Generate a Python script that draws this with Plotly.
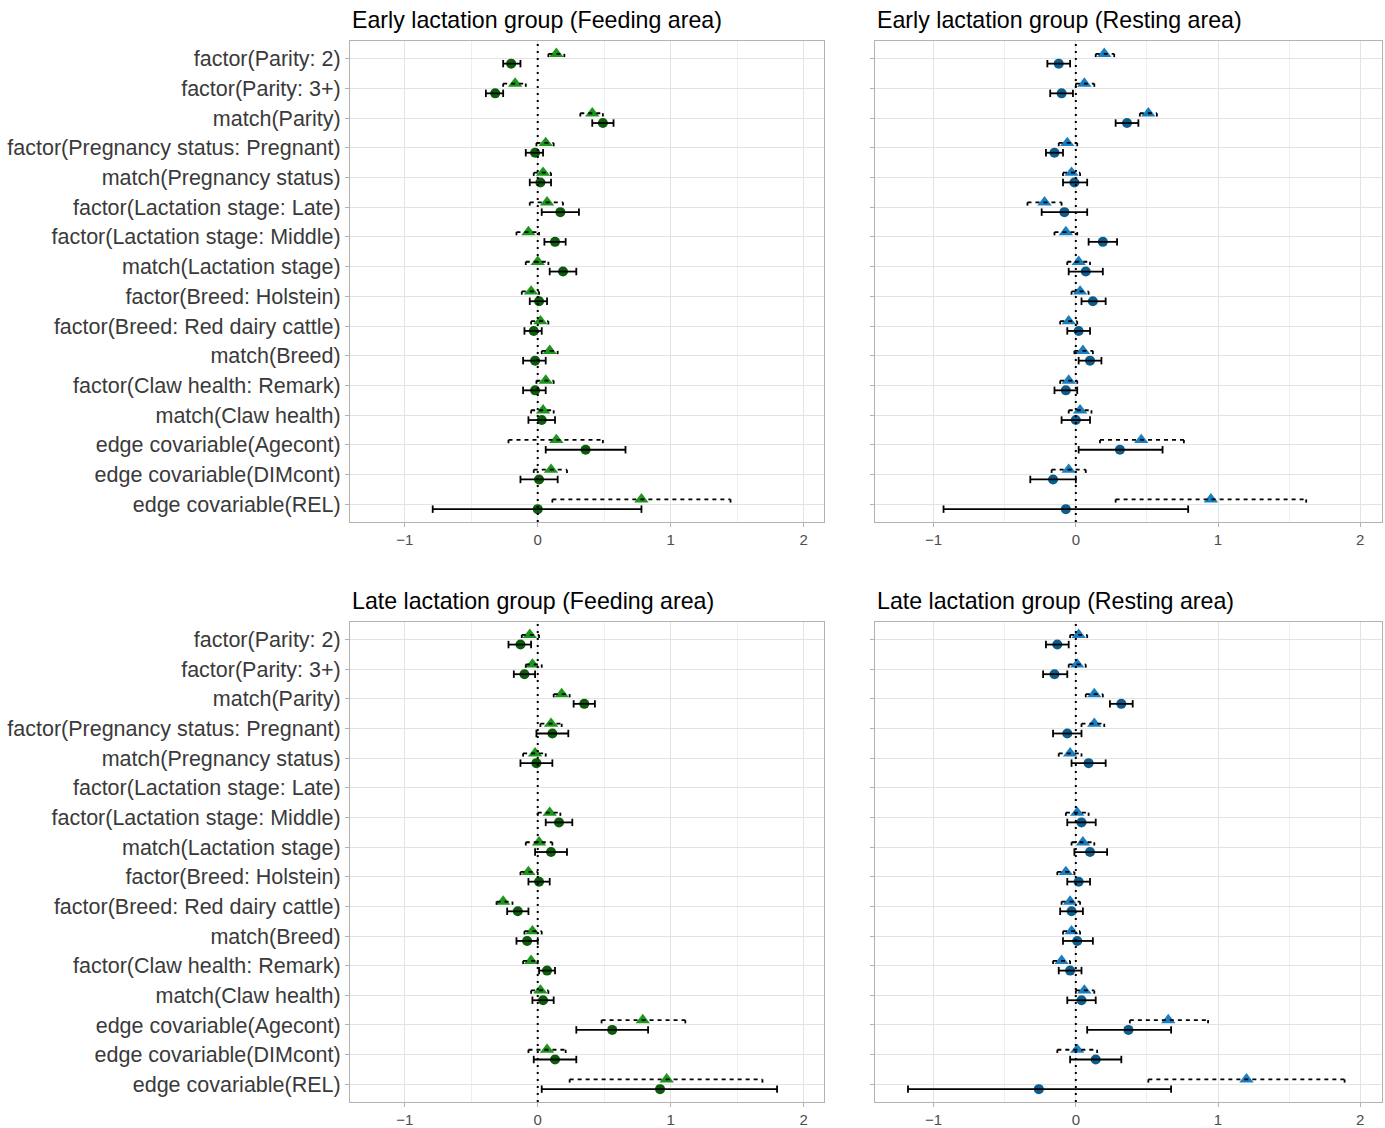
import plotly.graph_objects as go

# ---------------- data ----------------
labels = [
    "factor(Parity: 2)", "factor(Parity: 3+)", "match(Parity)",
    "factor(Pregnancy status: Pregnant)", "match(Pregnancy status)",
    "factor(Lactation stage: Late)", "factor(Lactation stage: Middle)",
    "match(Lactation stage)", "factor(Breed: Holstein)",
    "factor(Breed: Red dairy cattle)", "match(Breed)",
    "factor(Claw health: Remark)", "match(Claw health)",
    "edge covariable(Agecont)", "edge covariable(DIMcont)", "edge covariable(REL)",
]
x_ticks = [-1, 0, 1, 2]
x_minor = [-0.5, 0.5, 1.5]

titles = ["Early lactation group (Feeding area)", "Early lactation group (Resting area)",
          "Late lactation group (Feeding area)", "Late lactation group (Resting area)"]

# Early lactation, feeding area
ef_tri_est = [0.14, -0.17, 0.41, 0.06, 0.04, 0.07, -0.07, 0.00, -0.05, 0.02, 0.09, 0.06, 0.04, 0.14, 0.10, 0.78]
ef_tri_lo = [0.08, -0.26, 0.32, -0.01, -0.03, -0.06, -0.16, -0.09, -0.12, -0.05, 0.03, -0.01, -0.05, -0.22, -0.03, 0.11]
ef_tri_hi = [0.20, -0.09, 0.49, 0.12, 0.10, 0.19, 0.01, 0.08, 0.01, 0.08, 0.15, 0.12, 0.12, 0.49, 0.22, 1.45]
ef_circ_est = [-0.20, -0.32, 0.49, -0.02, 0.02, 0.17, 0.13, 0.19, 0.01, -0.03, -0.02, -0.02, 0.03, 0.36, 0.01, 0.00]
ef_circ_lo = [-0.26, -0.39, 0.41, -0.09, -0.06, 0.03, 0.05, 0.09, -0.06, -0.10, -0.11, -0.11, -0.07, 0.06, -0.13, -0.79]
ef_circ_hi = [-0.13, -0.26, 0.57, 0.04, 0.10, 0.31, 0.21, 0.29, 0.07, 0.03, 0.06, 0.06, 0.13, 0.66, 0.15, 0.78]

# Early lactation, resting area
er_tri_est = [0.20, 0.06, 0.51, -0.06, -0.03, -0.22, -0.07, 0.02, 0.03, -0.05, 0.05, -0.05, 0.03, 0.46, -0.05, 0.95]
er_tri_lo = [0.14, 0.00, 0.45, -0.12, -0.09, -0.34, -0.15, -0.06, -0.03, -0.11, -0.01, -0.11, -0.05, 0.17, -0.17, 0.28]
er_tri_hi = [0.27, 0.13, 0.57, 0.01, 0.03, -0.10, 0.01, 0.10, 0.09, 0.01, 0.12, 0.01, 0.11, 0.76, 0.07, 1.62]
er_circ_est = [-0.12, -0.10, 0.36, -0.15, -0.01, -0.08, 0.19, 0.07, 0.12, 0.02, 0.10, -0.07, 0.00, 0.31, -0.16, -0.07]
er_circ_lo = [-0.20, -0.18, 0.28, -0.21, -0.09, -0.24, 0.09, -0.05, 0.04, -0.06, 0.02, -0.15, -0.10, 0.02, -0.32, -0.93]
er_circ_hi = [-0.04, -0.02, 0.44, -0.09, 0.08, 0.08, 0.29, 0.19, 0.21, 0.10, 0.18, 0.01, 0.10, 0.61, 0.00, 0.79]

# Late lactation, feeding area
lf_tri_est = [-0.06, -0.04, 0.18, 0.10, -0.02, None, 0.09, 0.01, -0.07, -0.26, -0.04, -0.05, 0.02, 0.79, 0.07, 0.97]
lf_tri_lo = [-0.12, -0.09, 0.12, 0.02, -0.11, None, 0.00, -0.09, -0.13, -0.31, -0.10, -0.11, -0.05, 0.48, -0.07, 0.24]
lf_tri_hi = [0.01, 0.03, 0.24, 0.18, 0.06, None, 0.17, 0.11, 0.00, -0.19, 0.03, 0.00, 0.08, 1.11, 0.21, 1.69]
lf_circ_est = [-0.13, -0.10, 0.35, 0.11, -0.01, None, 0.16, 0.10, 0.01, -0.15, -0.08, 0.07, 0.04, 0.56, 0.13, 0.92]
lf_circ_lo = [-0.22, -0.18, 0.27, -0.01, -0.13, None, 0.06, -0.02, -0.07, -0.23, -0.16, 0.01, -0.04, 0.29, -0.03, 0.03]
lf_circ_hi = [-0.05, -0.02, 0.43, 0.23, 0.11, None, 0.26, 0.22, 0.09, -0.07, 0.00, 0.13, 0.12, 0.83, 0.29, 1.80]

# Late lactation, resting area
lr_tri_est = [0.02, 0.01, 0.13, 0.13, -0.04, None, 0.01, 0.05, -0.07, -0.04, -0.03, -0.10, 0.06, 0.65, 0.01, 1.20]
lr_tri_lo = [-0.04, -0.05, 0.07, 0.04, -0.12, None, -0.07, -0.03, -0.13, -0.10, -0.09, -0.16, 0.00, 0.38, -0.13, 0.51]
lr_tri_hi = [0.08, 0.07, 0.19, 0.20, 0.04, None, 0.09, 0.13, -0.01, 0.03, 0.03, -0.04, 0.13, 0.93, 0.15, 1.89]
lr_circ_est = [-0.13, -0.15, 0.32, -0.06, 0.09, None, 0.04, 0.10, 0.02, -0.03, 0.01, -0.04, 0.04, 0.37, 0.14, -0.26]
lr_circ_lo = [-0.21, -0.23, 0.24, -0.16, -0.03, None, -0.06, -0.01, -0.06, -0.11, -0.09, -0.12, -0.06, 0.08, -0.04, -1.18]
lr_circ_hi = [-0.05, -0.06, 0.40, 0.04, 0.21, None, 0.14, 0.22, 0.10, 0.05, 0.12, 0.04, 0.14, 0.67, 0.32, 0.67]

# ---------------- layout / style ----------------
W, H = 1385, 1128
FONT = "Liberation Sans, Arial, sans-serif"
GREEN_TRI, GREEN_CIRC = "#1c961c", "#0b5c0b"
BLUE_TRI, BLUE_CIRC = "#1a7fc1", "#0d5d8c"
OFF = 0.165      # dodge offset
CAP = 0.125      # cap half-height (solid)
DCAP = 0.11      # dashed cap length

panel_px = [  # (x0, x1, y0, y1) in pixels
    (350, 824, 41, 523),
    (875, 1382, 41, 523),
    (350, 824, 623, 1104),
    (875, 1382, 623, 1104),
]
panel_data = [
    (ef_tri_est, ef_tri_lo, ef_tri_hi, ef_circ_est, ef_circ_lo, ef_circ_hi, GREEN_TRI, GREEN_CIRC, True),
    (er_tri_est, er_tri_lo, er_tri_hi, er_circ_est, er_circ_lo, er_circ_hi, BLUE_TRI, BLUE_CIRC, False),
    (lf_tri_est, lf_tri_lo, lf_tri_hi, lf_circ_est, lf_circ_lo, lf_circ_hi, GREEN_TRI, GREEN_CIRC, True),
    (lr_tri_est, lr_tri_lo, lr_tri_hi, lr_circ_est, lr_circ_lo, lr_circ_hi, BLUE_TRI, BLUE_CIRC, False),
]

fig = go.Figure()
layout = dict(width=W, height=H, margin=dict(l=0, r=0, t=0, b=0),
              paper_bgcolor="white", plot_bgcolor="white", showlegend=False,
              font=dict(family=FONT))
shapes, annotations = [], []

n = len(labels)
pos = list(range(n))

for i, (px, pdata) in enumerate(zip(panel_px, panel_data)):
    t_est, t_lo, t_hi, c_est, c_lo, c_hi, tcol, ccol, show_lab = pdata
    sfx = "" if i == 0 else str(i + 1)
    xr, yr = "x" + sfx, "y" + sfx
    x0, x1, y0, y1 = px

    ty = [k - OFF for k in pos]
    cy = [k + OFF for k in pos]

    fig.add_trace(go.Scatter(x=t_est, y=ty, mode="markers", xaxis=xr, yaxis=yr,
                             marker=dict(symbol="triangle-up", size=12.5, color=tcol, line=dict(width=0))))
    fig.add_trace(go.Scatter(x=c_est, y=cy, mode="markers", xaxis=xr, yaxis=yr,
                             marker=dict(symbol="circle", size=10, color=ccol, line=dict(width=0))))

    # solid interval (circle)
    xs, ys = [], []
    for lo, hi, y in zip(c_lo, c_hi, cy):
        if lo is None:
            continue
        xs += [lo, hi, None, lo, lo, None, hi, hi, None]
        ys += [y, y, None, y - CAP, y + CAP, None, y - CAP, y + CAP, None]
    fig.add_trace(go.Scatter(x=xs, y=ys, mode="lines", xaxis=xr, yaxis=yr,
                             line=dict(color="black", width=1.8), hoverinfo="skip"))

    # dashed interval (triangle)
    xs, ys = [], []
    cxs, cys = [], []
    for lo, hi, y in zip(t_lo, t_hi, ty):
        if lo is None:
            continue
        xs += [lo, hi, None]
        ys += [y, y, None]
        cxs += [lo, lo, None, hi, hi, None]
        cys += [y, y + DCAP, None, y, y + DCAP, None]
    fig.add_trace(go.Scatter(x=xs, y=ys, mode="lines", xaxis=xr, yaxis=yr,
                             line=dict(color="black", width=1.8, dash="4px,4px"), hoverinfo="skip"))
    fig.add_trace(go.Scatter(x=cxs, y=cys, mode="lines", xaxis=xr, yaxis=yr,
                             line=dict(color="black", width=1.8), hoverinfo="skip"))

    layout["xaxis" + sfx] = dict(
        domain=[x0 / W, x1 / W], anchor=yr, range=[-1.412, 2.153],
        tickmode="array", tickvals=x_ticks, ticks="outside", ticklen=4,
        tickcolor="#b3b3b3", tickwidth=1,
        tickfont=dict(size=15, color="#4d4d4d", family=FONT),
        showgrid=True, gridcolor="#e3e3e3", gridwidth=1.3,
        minor=dict(tickvals=x_minor, showgrid=True, gridcolor="#efefef", gridwidth=1),
        zeroline=False, showline=True, linecolor="#b3b3b3", linewidth=1, mirror=True,
    )
    layout["yaxis" + sfx] = dict(
        domain=[1 - y1 / H, 1 - y0 / H], anchor=xr, range=[n - 1 + 0.6, -0.6],
        tickmode="array", tickvals=pos, ticktext=labels,
        showticklabels=show_lab, ticks="outside", ticklen=4,
        tickcolor="#b3b3b3", tickwidth=1,
        tickfont=dict(size=21.5, color="#3a3a3a", family=FONT),
        showgrid=True, gridcolor="#e3e3e3", gridwidth=1.3,
        zeroline=False, showline=True, linecolor="#b3b3b3", linewidth=1, mirror=True,
    )

    shapes.append(dict(type="line", xref=xr, yref=yr + " domain", x0=0, x1=0, y0=0, y1=1,
                       layer="above", line=dict(color="black", width=2, dash="2px,5px")))

    annotations.append(dict(
        text=titles[i], xref="paper", yref="paper", x=x0 / W, y=1 - (y0 - 21) / H,
        xanchor="left", yanchor="middle", showarrow=False,
        font=dict(size=23.2, color="black", family=FONT)))

layout["shapes"] = shapes
layout["annotations"] = annotations
fig.update_layout(**layout)
fig.write_html("out.html", config={"displayModeBar": False},
               post_script="document.body.style.margin='0';document.body.style.overflow='hidden';")
